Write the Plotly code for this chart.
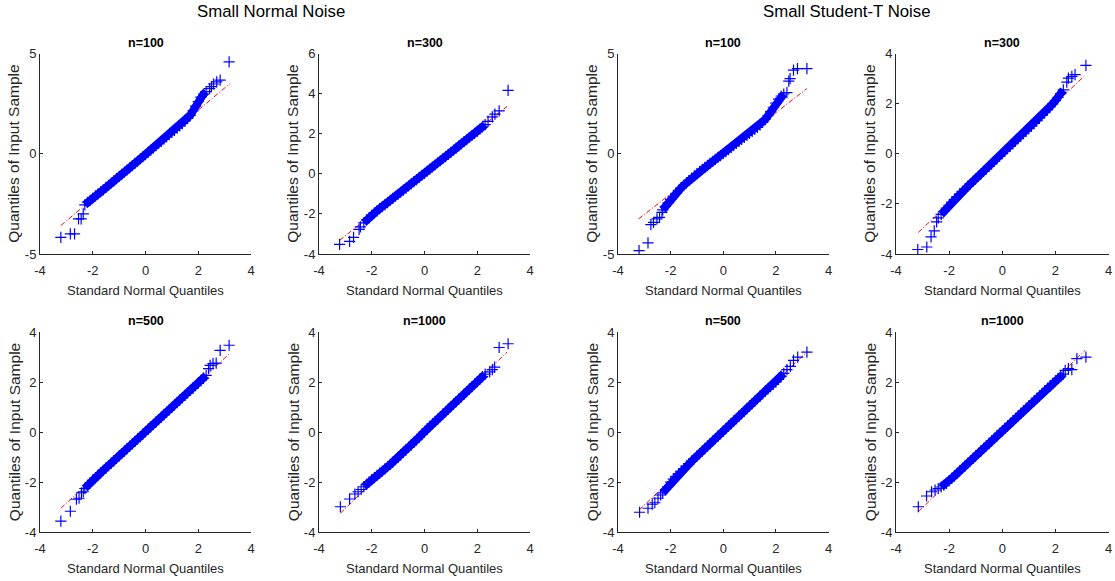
import plotly.graph_objects as go

W, H = 1115, 581
FONT = "Liberation Sans, Arial, Helvetica, sans-serif"
INK = "#262626"

# ---------------- data ----------------
col_titles = ["Small Normal Noise", "Small Student-T Noise"]
panel_titles = ["n=100", "n=300", "n=100", "n=300", "n=500", "n=1000", "n=500", "n=1000"]
x_label = "Standard Normal Quantiles"
y_label = "Quantiles of Input Sample"

x_ticks = [-4, -2, 0, 2, 4]
y_ticks_p1 = [-5, 0, 5]
y_ticks_p2 = [-4, -2, 0, 2, 4, 6]
y_ticks_p3 = [-5, 0, 5]
y_ticks_std = [-4, -2, 0, 2, 4]

# theoretical quantiles of the dense central part of every plot
mid_x = [-2.3, -2.2, -2.1, -2.0, -1.9, -1.8, -1.7, -1.6, -1.5, -1.4,
         -1.3, -1.2, -1.1, -1.0, -0.9, -0.8, -0.7, -0.6, -0.5, -0.4,
         -0.3, -0.2, -0.1, 0.0, 0.1, 0.2, 0.3, 0.4, 0.5, 0.6,
         0.7, 0.8, 0.9, 1.0, 1.1, 1.2, 1.3, 1.4, 1.5, 1.6,
         1.7, 1.8, 1.9, 2.0, 2.1, 2.2, 2.3]

# panel 1: normal, n=100
p1_mid_y = [-2.55, -2.42, -2.33, -2.22, -2.10, -2.00, -1.90, -1.80, -1.68, -1.57,
            -1.46, -1.35, -1.24, -1.13, -1.03, -0.92, -0.81, -0.70, -0.59, -0.48,
            -0.37, -0.26, -0.15, -0.04, 0.07, 0.18, 0.29, 0.40, 0.51, 0.62,
            0.73, 0.84, 0.95, 1.06, 1.17, 1.28, 1.39, 1.50, 1.62, 1.76,
            1.93, 2.14, 2.38, 2.60, 2.82, 2.98, 3.10]
p1_tail_x = [-3.21, -2.85, -2.69, -2.54, -2.44, -2.36, 2.43, 2.50, 2.58, 2.70, 2.83, 3.17]
p1_tail_y = [-4.17, -4.00, -4.00, -3.25, -3.25, -3.00, 3.25, 3.35, 3.48, 3.58, 3.67, 4.58]
p1_line_x = [-3.21, 3.20]
p1_line_y = [-3.58, 3.50]

# panel 2: normal, n=300
p2_mid_y = [-2.45, -2.30, -2.18, -2.07, -1.96, -1.85, -1.74, -1.64, -1.54, -1.44,
            -1.33, -1.23, -1.12, -1.02, -0.92, -0.81, -0.71, -0.60, -0.50, -0.39,
            -0.29, -0.18, -0.08, 0.02, 0.13, 0.23, 0.34, 0.44, 0.55, 0.65,
            0.76, 0.86, 0.97, 1.07, 1.18, 1.28, 1.39, 1.49, 1.60, 1.70,
            1.81, 1.91, 2.02, 2.12, 2.23, 2.34, 2.45]
p2_tail_x = [-3.22, -2.84, -2.69, -2.48, -2.43, 2.41, 2.57, 2.67, 2.83, 3.17]
p2_tail_y = [-3.52, -3.37, -3.17, -2.77, -2.65, 2.61, 2.84, 2.98, 3.14, 4.16]
p2_line_x = [-3.22, 3.13]
p2_line_y = [-3.32, 3.36]

# panel 3: student-t, n=100
p3_mid_y = [-2.80, -2.62, -2.45, -2.28, -2.12, -1.97, -1.83, -1.70, -1.57, -1.45,
            -1.33, -1.21, -1.10, -0.99, -0.88, -0.78, -0.68, -0.58, -0.48, -0.38,
            -0.28, -0.18, -0.09, 0.01, 0.11, 0.21, 0.31, 0.41, 0.51, 0.61,
            0.71, 0.81, 0.91, 1.01, 1.11, 1.21, 1.32, 1.44, 1.57, 1.72,
            1.90, 2.10, 2.32, 2.52, 2.72, 2.88, 2.98]
p3_tail_x = [-3.20, -2.86, -2.75, -2.65, -2.52, -2.42, -2.33, 2.42, 2.49, 2.54, 2.67, 2.82, 3.18]
p3_tail_y = [-4.83, -4.45, -3.53, -3.42, -3.25, -3.17, -2.92, 3.05, 3.62, 3.75, 4.17, 4.25, 4.25]
p3_line_x = [-3.22, 3.18]
p3_line_y = [-3.25, 3.25]

# panel 4: student-t, n=300
p4_mid_y = [-2.42, -2.30, -2.17, -2.05, -1.93, -1.82, -1.71, -1.60, -1.50, -1.40,
            -1.30, -1.20, -1.10, -1.00, -0.90, -0.80, -0.70, -0.60, -0.50, -0.40,
            -0.30, -0.20, -0.10, 0.00, 0.10, 0.20, 0.30, 0.40, 0.50, 0.60,
            0.70, 0.80, 0.90, 1.00, 1.10, 1.21, 1.31, 1.42, 1.53, 1.64,
            1.75, 1.87, 1.99, 2.12, 2.25, 2.40, 2.55]
p4_tail_x = [-3.18, -2.84, -2.68, -2.56, -2.47, -2.41, 2.43, 2.49, 2.62, 2.74, 3.15]
p4_tail_y = [-3.82, -3.72, -3.32, -3.08, -2.72, -2.56, 2.86, 3.02, 3.09, 3.16, 3.53]
p4_line_x = [-3.16, 3.12]
p4_line_y = [-3.14, 3.13]

# panel 5: normal, n=500
p5_mid_y = [-2.25, -2.13, -2.02, -1.92, -1.82, -1.72, -1.63, -1.53, -1.44, -1.34,
            -1.24, -1.15, -1.05, -0.95, -0.86, -0.76, -0.66, -0.57, -0.47, -0.37,
            -0.27, -0.18, -0.08, 0.02, 0.12, 0.21, 0.31, 0.41, 0.50, 0.60,
            0.70, 0.79, 0.89, 0.99, 1.09, 1.18, 1.28, 1.38, 1.47, 1.57,
            1.67, 1.76, 1.86, 1.96, 2.06, 2.16, 2.27]
p5_tail_x = [-3.21, -2.85, -2.62, -2.52, -2.43, -2.36, 2.39, 2.45, 2.56, 2.68, 2.83, 3.17]
p5_tail_y = [-3.55, -3.16, -2.68, -2.64, -2.42, -2.38, 2.54, 2.67, 2.74, 2.76, 3.27, 3.47]
p5_line_x = [-3.21, 3.21]
p5_line_y = [-3.04, 3.16]

# panel 6: normal, n=1000
p6_mid_y = [-2.18, -2.08, -1.99, -1.90, -1.82, -1.73, -1.64, -1.56, -1.47, -1.38,
            -1.29, -1.20, -1.10, -1.01, -0.91, -0.81, -0.71, -0.61, -0.51, -0.41,
            -0.30, -0.20, -0.09, 0.02, 0.13, 0.23, 0.33, 0.43, 0.52, 0.62,
            0.72, 0.82, 0.92, 1.02, 1.12, 1.22, 1.32, 1.42, 1.52, 1.62,
            1.72, 1.82, 1.92, 2.02, 2.12, 2.22, 2.32]
p6_tail_x = [-3.19, -2.84, -2.64, -2.52, -2.40, 2.47, 2.57, 2.66, 2.83, 3.17]
p6_tail_y = [-2.98, -2.67, -2.47, -2.38, -2.29, 2.41, 2.50, 2.60, 3.38, 3.53]
p6_line_x = [-3.19, 3.13]
p6_line_y = [-3.24, 3.20]

# panel 7: student-t, n=500
p7_mid_y = [-2.42, -2.30, -2.17, -2.00, -1.88, -1.77, -1.66, -1.56, -1.46, -1.36,
            -1.26, -1.16, -1.06, -0.96, -0.86, -0.76, -0.66, -0.56, -0.46, -0.36,
            -0.26, -0.16, -0.06, 0.04, 0.14, 0.24, 0.34, 0.44, 0.54, 0.64,
            0.74, 0.84, 0.94, 1.04, 1.14, 1.24, 1.34, 1.44, 1.54, 1.64,
            1.73, 1.82, 1.91, 2.00, 2.11, 2.23, 2.35]
p7_tail_x = [-3.18, -2.86, -2.70, -2.60, -2.48, -2.38, 2.42, 2.55, 2.67, 2.83, 3.18]
p7_tail_y = [-3.20, -3.04, -2.88, -2.82, -2.64, -2.51, 2.50, 2.63, 2.87, 3.00, 3.20]
p7_line_x = [-3.20, 3.18]
p7_line_y = [-3.11, 3.20]

# panel 8: student-t, n=1000
p8_mid_y = [-2.19, -2.12, -2.05, -1.95, -1.85, -1.75, -1.65, -1.55, -1.45, -1.35,
            -1.25, -1.15, -1.05, -0.95, -0.85, -0.75, -0.65, -0.55, -0.45, -0.35,
            -0.25, -0.15, -0.05, 0.05, 0.15, 0.25, 0.35, 0.45, 0.55, 0.65,
            0.75, 0.85, 0.95, 1.05, 1.15, 1.25, 1.35, 1.45, 1.55, 1.65,
            1.75, 1.85, 1.95, 2.05, 2.15, 2.24, 2.32]
p8_tail_x = [-3.16, -2.85, -2.66, -2.53, -2.41, 2.37, 2.49, 2.62, 2.81, 3.15]
p8_tail_y = [-2.98, -2.55, -2.38, -2.31, -2.25, 2.47, 2.54, 2.50, 2.94, 3.00]
p8_line_x = [-3.16, 3.12]
p8_line_y = [-3.18, 3.27]

# ---------------- layout geometry (pixels) ----------------
col_px = [(40, 251), (319, 530), (618, 828.5), (896, 1108.5)]
row_px = [(53.5, 254), (332, 532.3)]

panels = [
    (0, 0, p1_mid_y, p1_tail_x, p1_tail_y, p1_line_x, p1_line_y, y_ticks_p1),
    (0, 1, p2_mid_y, p2_tail_x, p2_tail_y, p2_line_x, p2_line_y, y_ticks_p2),
    (0, 2, p3_mid_y, p3_tail_x, p3_tail_y, p3_line_x, p3_line_y, y_ticks_p3),
    (0, 3, p4_mid_y, p4_tail_x, p4_tail_y, p4_line_x, p4_line_y, y_ticks_std),
    (1, 0, p5_mid_y, p5_tail_x, p5_tail_y, p5_line_x, p5_line_y, y_ticks_std),
    (1, 1, p6_mid_y, p6_tail_x, p6_tail_y, p6_line_x, p6_line_y, y_ticks_std),
    (1, 2, p7_mid_y, p7_tail_x, p7_tail_y, p7_line_x, p7_line_y, y_ticks_std),
    (1, 3, p8_mid_y, p8_tail_x, p8_tail_y, p8_line_x, p8_line_y, y_ticks_std),
]


def px(x):
    return x / W


def py(y):
    return 1 - y / H


fig = go.Figure()
annotations = []
layout_axes = {}

BLUE = "#0000ff"
marker = dict(symbol="cross-thin", size=8, color=BLUE, line=dict(width=1.2, color=BLUE))

for i, (r, c, mid_y, tx, ty, lx, ly, yt) in enumerate(panels):
    k = "" if i == 0 else str(i + 1)
    xa, ya = "x" + k, "y" + k
    # reference line (drawn first so the dense band covers it)
    fig.add_trace(go.Scatter(x=lx, y=ly, mode="lines",
                             line=dict(color="#ff0000", width=1, dash="5px,2px,1px,2px"),
                             xaxis=xa, yaxis=ya, showlegend=False, hoverinfo="skip"))
    # dense central band of overlapping markers
    fig.add_trace(go.Scatter(x=mid_x, y=mid_y, mode="lines+markers",
                             line=dict(color=BLUE, width=8), marker=marker,
                             xaxis=xa, yaxis=ya, showlegend=False, hoverinfo="skip"))
    # sparse tail points
    fig.add_trace(go.Scatter(x=tx, y=ty, mode="markers", marker=marker,
                             xaxis=xa, yaxis=ya, showlegend=False, hoverinfo="skip"))
    x0, x1 = col_px[c]
    y0, y1 = row_px[r]
    common = dict(showgrid=False, zeroline=False, showline=True, linecolor=INK,
                  linewidth=1, ticks="inside", ticklen=3, tickcolor=INK,
                  tickfont=dict(family=FONT, size=13, color=INK), mirror=False)
    layout_axes["xaxis" + k] = dict(domain=[px(x0), px(x1)], anchor=ya,
                                    range=[-4, 4], tickvals=x_ticks,
                                    ticktext=[str(v) for v in x_ticks],
                                    ticklabelstandoff=4, **common)
    layout_axes["yaxis" + k] = dict(domain=[py(y1), py(y0)], anchor=xa,
                                    range=[yt[0], yt[-1]], tickvals=yt,
                                    ticktext=[str(v) for v in yt], **common)
    cx = (x0 + x1) / 2
    annotations.append(dict(text="<b>" + panel_titles[i] + "</b>", x=px(cx), y=py(y0 - 11),
                            xref="paper", yref="paper", showarrow=False,
                            xanchor="center", yanchor="middle",
                            font=dict(family=FONT, size=12.5, color="#000000")))
    annotations.append(dict(text=x_label, x=px(cx), y=py(y1 + 36),
                            xref="paper", yref="paper", showarrow=False,
                            xanchor="center", yanchor="middle",
                            font=dict(family=FONT, size=13, color=INK)))
    annotations.append(dict(text=y_label, x=px(x0 - 26), y=py((y0 + y1) / 2),
                            xref="paper", yref="paper", showarrow=False, textangle=-90,
                            xanchor="center", yanchor="middle",
                            font=dict(family=FONT, size=15.5, color=INK)))

annotations.append(dict(text=col_titles[0], x=px(271), y=py(11), xref="paper", yref="paper",
                        showarrow=False, xanchor="center", yanchor="middle",
                        font=dict(family=FONT, size=16.8, color="#000000")))
annotations.append(dict(text=col_titles[1], x=px(847), y=py(11), xref="paper", yref="paper",
                        showarrow=False, xanchor="center", yanchor="middle",
                        font=dict(family=FONT, size=16.8, color="#000000")))

fig.update_layout(width=W, height=H,
                  margin=dict(l=0, r=0, t=0, b=0, pad=0, autoexpand=False),
                  paper_bgcolor="white", plot_bgcolor="white",
                  annotations=annotations, **layout_axes)

fig.write_html("out.html", config={"displayModeBar": False},
               post_script="document.body.style.margin='0';document.body.style.padding='0';")
